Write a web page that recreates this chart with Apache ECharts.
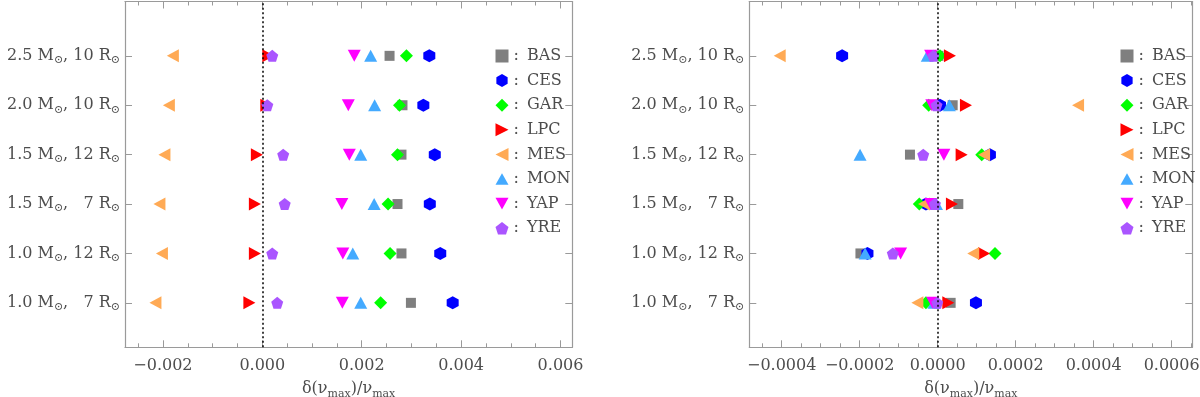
<!DOCTYPE html>
<html>
<head>
<meta charset="utf-8">
<script src="https://cdn.jsdelivr.net/npm/echarts@6/dist/echarts.min.js"></script>
<style>
  html, body { margin: 0; background: #fff; }
  #chart { width: 1200px; height: 397px; }
</style>
</head>
<body>
<div id="chart"></div>
<script>
// rows, top to bottom
const rowLabels = [
  "2.5 M{s|⊙}, 10 R{s|⊙}",
  "2.0 M{s|⊙}, 10 R{s|⊙}",
  "1.5 M{s|⊙}, 12 R{s|⊙}",
  "1.5 M{s|⊙}, \u20077 R{s|⊙}",
  "1.0 M{s|⊙}, 12 R{s|⊙}",
  "1.0 M{s|⊙}, \u20077 R{s|⊙}",
];
const pipelines = ["BAS", "CES", "GAR", "LPC", "MES", "MON", "YAP", "YRE"];

// left panel values, same row order
const basL = [0.00256, 0.00282, 0.0028, 0.00272, 0.0028, 0.00299];
const cesL = [0.00336, 0.00324, 0.00347, 0.00337, 0.00358, 0.00383];
const garL = [0.0029, 0.00276, 0.00272, 0.00253, 0.00257, 0.00238];
const lpcL = [0.00012, 0.00008, -0.00011, -0.00015, -0.00015, -0.00026];
const mesL = [-0.0018, -0.00188, -0.00197, -0.00207, -0.00202, -0.00215];
const monL = [0.00218, 0.00226, 0.00198, 0.00225, 0.00182, 0.00198];
const yapL = [0.00185, 0.00173, 0.00175, 0.0016, 0.00162, 0.00161];
const yreL = [0.0002, 0.0001, 0.00042, 0.00045, 0.0002, 0.0003];

// right panel values
const basR = [0.000002, 0.0000385, -0.000071, 0.000053, -0.000198, 0.0000333];
const cesR = [-0.000245, 0.000006, 0.000134, -0.00003, -0.00018, 0.0000982];
const garR = [0.000006, -0.000023, 0.000113, -0.000047, 0.000147, -0.00003];
const lpcR = [0.0000315, 0.0000726, 0.0000615, 0.0000367, 0.000119, 0.0000273];
const mesR = [-0.000405, 0.00036, 0.000119, -0.000035, 0.0000913, -0.000052];
const monR = [-0.0000266, 0.00003, -0.000199, -0.000003, -0.000186, -0.0000095];
const yapR = [-0.000018, -0.000015, 0.000016, -0.000018, -0.000095, -0.0000128];
const yreR = [-0.000011, -0.000003, -0.000037, -0.000007, -0.000115, -0.000001];

const leftMajor = [-0.002, 0, 0.002, 0.004, 0.006];
const leftMinor = [-0.0025, -0.0015, -0.001, -0.0005, 0.0005, 0.001, 0.0015, 0.0025, 0.003, 0.0035, 0.0045, 0.005, 0.0055];
const rightMajor = [-0.0004, -0.0002, 0, 0.0002, 0.0004, 0.0006];
const rightMinor = [-0.00045, -0.00035, -0.0003, -0.00025, -0.00015, -0.0001, -0.00005,
  0.00005, 0.0001, 0.00015, 0.00025, 0.0003, 0.00035, 0.00045, 0.0005, 0.00055, 0.00065];
const rowTicks = [1, 2, 3, 4, 5, 6];

const markers = {
  BAS: { symbol: "rect", size: [10, 10], color: "#7f7f7f" },
  CES: { symbol: "path://M5,0 L9.33,2.5 L9.33,7.5 L5,10 L0.67,7.5 L0.67,2.5 Z", size: [12, 13], color: "#0000ff" },
  GAR: { symbol: "diamond", size: [13, 13], color: "#00ff00" },
  LPC: { symbol: "path://M0,0 L10,5 L0,10 Z", size: [12, 13], color: "#ff0000" },
  MES: { symbol: "path://M10,0 L0,5 L10,10 Z", size: [12, 13], color: "#ffaa55" },
  MON: { symbol: "path://M5,0 L10,9 L0,9 Z", size: [13, 12], color: "#44aaff" },
  YAP: { symbol: "path://M0,0 L10,0 L5,9 Z", size: [13, 12], color: "#ff00ff" },
  YRE: { symbol: "path://M5,0 L10,3.8 L8.1,9.5 L1.9,9.5 L0,3.8 Z", size: [12, 12], color: "#aa55ff" },
};

const font = "DejaVu Serif";
const frame = "#9a9a9a";
const textColor = "#4d4d4d";
const subRich = {
  s: { fontSize: 11, fontFamily: font, color: textColor, verticalAlign: "bottom", lineHeight: 11 },
};

const xAxes = (gridIndex, min, max, major, minor, digits) => {
  const base = { type: "value", gridIndex, min, max, splitLine: { show: false } };
  const tick = (values, length) => ({ show: true, inside: true, length, customValues: values, lineStyle: { color: frame } });
  return [
    {
      ...base,
      position: "bottom",
      axisLine: { show: true, onZero: false, lineStyle: { color: frame, width: 1.2 } },
      axisTick: tick(major, 7),
      axisLabel: {
        customValues: major,
        margin: 11,
        color: textColor,
        fontFamily: font,
        fontSize: 16,
        formatter: (v) => v.toFixed(digits).replace("-", "\u2212"),
      },
      name: "δ(ν{s|max})/ν{s|max}",
      nameLocation: "middle",
      nameGap: 26,
      nameTextStyle: { fontFamily: font, fontSize: 16, color: textColor, lineHeight: 20, rich: subRich },
    },
    { ...base, position: "bottom", axisLine: { show: false }, axisTick: tick(minor, 4), axisLabel: { show: false } },
    {
      ...base,
      position: "top",
      axisLine: { show: true, onZero: false, lineStyle: { color: frame, width: 1.2 } },
      axisTick: tick(major, 7),
      axisLabel: { show: false },
    },
    { ...base, position: "top", axisLine: { show: false }, axisTick: tick(minor, 4), axisLabel: { show: false } },
  ];
};

const yAxes = (gridIndex) => {
  const base = { type: "value", gridIndex, min: 0.1, max: 7.1, splitLine: { show: false } };
  return [
    {
      ...base,
      position: "left",
      axisLine: { show: true, onZero: false, lineStyle: { color: frame, width: 1.2 } },
      axisTick: { show: true, inside: true, length: 7, customValues: rowTicks, lineStyle: { color: frame } },
      axisLabel: {
        customValues: rowTicks,
        margin: 5,
        color: textColor,
        fontFamily: font,
        fontSize: 16,
        lineHeight: 20,
        rich: subRich,
        formatter: (v) => rowLabels[rowLabels.length - Math.round(v)],
      },
    },
    {
      ...base,
      position: "right",
      axisLine: { show: true, onZero: false, lineStyle: { color: frame, width: 1.2 } },
      axisTick: { show: true, inside: true, length: 7, customValues: rowTicks, lineStyle: { color: frame } },
      axisLabel: { show: false },
    },
  ];
};

const toPoints = (values) => values.map((v, i) => [v, rowLabels.length - i]);

const panelSeries = (values, xAxisIndex, yAxisIndex) =>
  pipelines.map((name, k) => ({
    name,
    type: "scatter",
    xAxisIndex,
    yAxisIndex,
    symbol: markers[name].symbol,
    symbolSize: markers[name].size,
    itemStyle: { color: markers[name].color, opacity: 1 },
    data: toPoints(values[k]),
    markLine:
      k === 0
        ? {
            silent: true,
            symbol: ["none", "none"],
            label: { show: false },
            lineStyle: { color: "#000", type: [2, 2.5], width: 1.5 },
            data: [{ xAxis: 0 }],
          }
        : undefined,
  }));

const legend = (left) => ({
  left,
  top: 43,
  orient: "vertical",
  itemWidth: 13,
  itemHeight: 13,
  itemGap: 8.6,
  data: pipelines,
  formatter: ":\u2002{name}",
  textStyle: { fontFamily: font, fontSize: 16, lineHeight: 16, color: textColor },
});

const chart = echarts.init(document.getElementById("chart"));
chart.setOption({
  animation: false,
  backgroundColor: "#fff",
  grid: [
    { left: 125, right: 627.7, top: 1.5, bottom: 49.7, outerBoundsMode: "none" },
    { left: 749.3, right: 7.7, top: 1.5, bottom: 49.7, outerBoundsMode: "none" },
  ],
  legend: [legend(490.5), legend(1115.5)],
  xAxis: [
    ...xAxes(0, -0.002763, 0.006237, leftMajor, leftMinor, 3),
    ...xAxes(1, -0.000483, 0.000653, rightMajor, rightMinor, 4),
  ],
  yAxis: [...yAxes(0), ...yAxes(1)],
  series: [
    ...panelSeries([basL, cesL, garL, lpcL, mesL, monL, yapL, yreL], 0, 0),
    ...panelSeries([basR, cesR, garR, lpcR, mesR, monR, yapR, yreR], 4, 2),
  ],
});
</script>
</body>
</html>
